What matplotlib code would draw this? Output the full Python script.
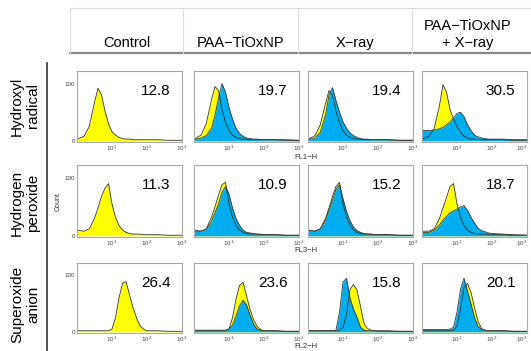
import numpy as np
import matplotlib
matplotlib.use("Agg")
import matplotlib.pyplot as plt
from matplotlib.lines import Line2D

plt.rcParams['font.family'] = ['Liberation Sans', 'DejaVu Sans']

# column / row labels
conditions = ["Control", "PAA\u2212TiOxNP", "X\u2212ray", "PAA\u2212TiOxNP\n+ X\u2212ray"]
species = ["Hydroxyl\nradical", "Hydrogen\nperoxide", "Superoxide\nanion"]
channels = ["FL1\u2212H", "FL3\u2212H", "FL2\u2212H"]

# percent values shown in each panel
pct_hydroxyl = ["12.8", "19.7", "19.4", "30.5"]
pct_peroxide = ["11.3", "10.9", "15.2", "18.7"]
pct_superoxide = ["26.4", "23.6", "15.8", "20.1"]

# log10 fluorescence positions where the histograms were read
LOGX = [0, .2, .35, .5, .6, .7, .8, .9, 1.0, 1.1, 1.2, 1.3, 1.4, 1.5,
        1.6, 1.7, 1.8, 1.9, 2.0, 2.3, 2.6, 3.0]

# hydroxyl radical (yellow = control overlay, blue = treated)
hyd_ctrl   = [3, 8, 25, 67, 92, 80, 52, 30, 16, 10, 6, 4, 3, 3, 2, 2, 2, 2, 2, 2, 1, 1]
hyd_paa_y  = [3, 10, 30, 72, 95, 88, 55, 32, 18, 10, 6, 4, 3, 3, 2, 2, 2, 2, 2, 2, 1, 1]
hyd_paa_b  = [2, 5, 9, 22, 45, 75, 100, 85, 58, 38, 22, 13, 8, 5, 4, 3, 3, 2, 2, 2, 2, 1]
hyd_xr_y   = [3, 9, 28, 65, 88, 80, 52, 32, 18, 10, 6, 4, 3, 3, 2, 2, 2, 2, 2, 2, 1, 1]
hyd_xr_b   = [2, 5, 15, 45, 80, 93, 70, 50, 33, 22, 14, 9, 6, 4, 3, 3, 2, 2, 2, 2, 1, 1]
hyd_cmb_y  = [3, 8, 22, 62, 98, 85, 55, 38, 25, 15, 8, 5, 3, 3, 2, 2, 2, 2, 2, 2, 1, 1]
hyd_cmb_b  = [18, 18, 19, 21, 24, 28, 33, 40, 48, 50, 42, 28, 18, 10, 7, 5, 4, 3, 3, 3, 2, 2]

# hydrogen peroxide
per_ctrl   = [10, 8, 12, 30, 48, 68, 82, 90, 55, 32, 18, 10, 6, 4, 3, 3, 3, 2, 2, 2, 1, 1]
per_paa_y  = [10, 8, 12, 32, 50, 70, 88, 92, 55, 32, 18, 10, 6, 4, 3, 3, 3, 2, 2, 2, 1, 1]
per_paa_b  = [8, 8, 11, 25, 40, 55, 75, 85, 72, 48, 30, 18, 10, 6, 5, 4, 3, 3, 2, 2, 1, 1]
per_xr_y   = [10, 8, 12, 30, 48, 68, 85, 92, 55, 32, 18, 10, 6, 4, 3, 3, 3, 2, 2, 2, 1, 1]
per_xr_b   = [9, 8, 12, 27, 44, 62, 80, 88, 64, 42, 26, 15, 9, 6, 4, 3, 3, 2, 2, 2, 1, 1]
per_cmb_y  = [8, 8, 12, 30, 48, 66, 85, 90, 55, 32, 18, 10, 6, 4, 3, 3, 3, 2, 2, 2, 1, 1]
per_cmb_b  = [6, 6, 10, 19, 27, 33, 40, 43, 46, 50, 52, 44, 32, 22, 13, 9, 7, 5, 4, 3, 2, 1]

# superoxide anion
sup_ctrl   = [2, 2, 2, 2, 2, 2, 2, 2, 5, 25, 60, 86, 89, 66, 43, 25, 11, 5, 2, 2, 1, 1]
sup_paa_y  = [2, 2, 2, 2, 2, 2, 2, 2, 5, 25, 58, 82, 88, 64, 40, 22, 10, 4, 2, 2, 1, 1]
sup_paa_b  = [3, 3, 3, 3, 3, 3, 3, 3, 5, 12, 28, 46, 56, 48, 30, 14, 5, 3, 2, 2, 1, 1]
sup_xr_y   = [2, 2, 2, 2, 2, 2, 2, 3, 8, 30, 75, 84, 74, 45, 15, 6, 3, 2, 2, 2, 1, 1]
sup_xr_b   = [2, 2, 2, 2, 2, 2, 3, 35, 88, 95, 60, 40, 26, 8, 3, 2, 2, 2, 1, 1, 1, 1]
sup_cmb_y  = [2, 2, 2, 2, 2, 2, 2, 3, 10, 40, 78, 86, 70, 43, 19, 6, 3, 2, 2, 2, 1, 1]
sup_cmb_b  = [4, 4, 4, 4, 4, 4, 5, 8, 35, 75, 95, 72, 49, 25, 10, 4, 3, 2, 2, 2, 1, 1]

rows = [
    [(hyd_ctrl, None), (hyd_paa_y, hyd_paa_b), (hyd_xr_y, hyd_xr_b), (hyd_cmb_y, hyd_cmb_b)],
    [(per_ctrl, None), (per_paa_y, per_paa_b), (per_xr_y, per_xr_b), (per_cmb_y, per_cmb_b)],
    [(sup_ctrl, None), (sup_paa_y, sup_paa_b), (sup_xr_y, sup_xr_b), (sup_cmb_y, sup_cmb_b)],
]
pcts = [pct_hydroxyl, pct_peroxide, pct_superoxide]

YELLOW = "#FFFF00"
BLUE = "#00AEEF"
W, H = 531, 351

fig = plt.figure(figsize=(W / 100, H / 100), dpi=100)

# pixel layout of the panel grid
col_left = [77, 194, 308, 422]
col_w = 105
row_top = [71, 165, 263]
row_h = [71, 72, 70]

x = 10 ** np.array(LOGX)

for r in range(3):
    for c in range(4):
        ax = fig.add_axes([col_left[c] / W, 1 - (row_top[r] + row_h[r]) / H,
                           col_w / W, row_h[r] / H])
        yel, blu = rows[r][c]
        ax.fill_between(x, 0, yel, color=YELLOW, lw=0)
        ax.plot(x, yel, color="#333333", lw=0.6)
        if blu is not None:
            ax.fill_between(x, 0, blu, color=BLUE, lw=0)
            ax.plot(x, blu, color="#333333", lw=0.6)
        ax.set_xscale('log')
        ax.set_xlim(1, 1000)
        ax.set_ylim(-2, 122)
        ax.set_xticks([10, 100, 1000])
        ax.minorticks_off()
        ax.tick_params(length=0, labelsize=4.5, labelcolor="#444444", pad=1.5)
        if c == 3:
            ax.get_xticklabels()[-1].set_horizontalalignment('right')
        if c == 0:
            ax.set_yticks([0, 100])
        else:
            ax.set_yticks([])
        for s in ax.spines.values():
            s.set_color("#aaaaaa")
            s.set_linewidth(0.8)
        ax.text(0.75, 0.72, pcts[r][c], transform=ax.transAxes,
                ha='center', va='center', fontsize=11)

# channel labels under each row
for r, lab in enumerate(channels):
    ypix = [157.5, 250.5, 347][r]
    fig.text(306 / W, 1 - ypix / H, lab, ha='center', va='center',
             fontsize=5.5, color="#333333")

fig.text(58 / W, 1 - 202 / H, "Count", rotation=90, ha='center', va='center',
         fontsize=5, color="#333333")

# header box with condition names
hdr_x = [70, 183, 298, 412, 531]
fig.add_artist(Line2D([70 / W, 1], [1 - 8 / H] * 2, color="#dddddd", lw=0.8))
fig.add_artist(Line2D([70 / W, 1], [1 - 53 / H] * 2, color="#888888", lw=1.6))
for xx in hdr_x[:4]:
    fig.add_artist(Line2D([xx / W] * 2, [1 - 8 / H, 1 - 53 / H], color="#dddddd", lw=0.8))
for i, lab in enumerate(conditions):
    cx = (hdr_x[i] + hdr_x[i + 1]) / 2 / W
    if i == 3:
        cx = 468 / W
    fig.text(cx, 1 - 50 / H, lab, ha='center', va='bottom', fontsize=10.5,
             linespacing=1.25)

# row labels with the vertical rule
fig.add_artist(Line2D([47 / W] * 2, [0, 1 - 63 / H], color="#333333", lw=1.2))
for r, lab in enumerate(species):
    ypix = [106, 203, 304][r]
    fig.text(25 / W, 1 - ypix / H, lab, rotation=90, ha='center', va='center',
             fontsize=11, linespacing=1.2)

fig.savefig("out.png", dpi=100)
